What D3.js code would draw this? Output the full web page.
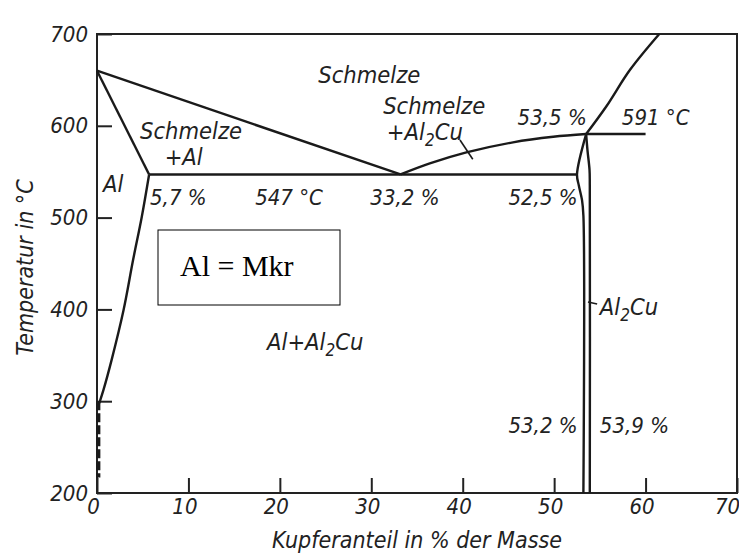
<!DOCTYPE html>
<html>
<head>
<meta charset="utf-8">
<script src="https://cdn.jsdelivr.net/npm/d3@7"></script>
<style>
  body { margin: 0; background: #fff; }
  svg { display: block; }
  text { font-family: "Liberation Sans Narrow", "DejaVu Sans Condensed", "Liberation Sans", sans-serif; font-style: italic; fill: #222; }
  .box text { font-family: "Liberation Serif", "Times New Roman", serif; font-style: normal; fill: #000; }
</style>
</head>
<body>
<div class="chart_container"></div>
<script>
// axis ticks
const xTicks = [0, 10, 20, 30, 40, 50, 60, 70];
const yTicks = [200, 300, 400, 500, 600, 700];

// phase boundaries, [Cu %, Temperatur °C]
const liquidusAl = [[0, 660], [33.2, 547]];
const liquidusAl2Cu = [[33.2, 547], [36.4, 559], [40.4, 571], [45.5, 582], [49.9, 588], [53.5, 591]];
const liquidusUpper = [[53.5, 591], [55.7, 621], [58.3, 661], [61.5, 700]];
const solidusAl = [[0, 660], [5.7, 547]];
const solvusAl = [[5.7, 547], [4.9, 501], [3.95, 454], [2.9, 399], [1.6, 345], [0.7, 312], [0.25, 298]];
const solvusDashed = [[0.15, 300], [0.15, 217]];
const eutectic = [[5.7, 547], [52.5, 547]];
const peritectic = [[53.5, 591], [60, 591]];
const al2cuLeft = [[53.5, 591], [52.5, 547], [52.7, 535], [53.05, 519], [53.2, 502], [53.2, 200]];
const al2cuRight = [[53.5, 591], [53.65, 573], [53.87, 552], [53.9, 535], [53.9, 200]];
const pointerMelt = [[39.7, 584.5], [41.1, 563.5]];
const pointerAl2Cu = [[53.7, 408], [54.7, 405.8]];

// annotations: text parts ([text, isSubscript]) anchored at [Cu %, Temperatur °C]
const annotations = [
  { parts: [["Schmelze"]], at: [24.2, 647] },
  { parts: [["Schmelze"]], at: [31.3, 613] },
  { parts: [["+Al"], ["2", true], ["Cu"]], at: [31.7, 584] },
  { parts: [["Schmelze"]], at: [4.7, 586] },
  { parts: [["+Al"]], at: [7.4, 557] },
  { parts: [["Al"]], at: [0.65, 528] },
  { parts: [["5,7 %"]], at: [5.8, 514], num: true },
  { parts: [["547 °C"]], at: [17.3, 514], num: true },
  { parts: [["33,2 %"]], at: [29.9, 514], num: true },
  { parts: [["52,5 %"]], at: [45.0, 514], num: true },
  { parts: [["53,5 %"]], at: [46.0, 601], num: true },
  { parts: [["591 °C"]], at: [57.4, 601], num: true },
  { parts: [["Al+Al"], ["2", true], ["Cu"]], at: [18.6, 356] },
  { parts: [["Al"], ["2", true], ["Cu"]], at: [55.0, 394] },
  { parts: [["53,2 %"]], at: [45.0, 265], num: true },
  { parts: [["53,9 %"]], at: [55.0, 265], num: true },
];

const width = 739, height = 559;
const margin = { top: 34, right: 2, bottom: 66, left: 97 };

function drawDiagram() {
  const container = document.querySelector('div.chart_container');
  container.innerHTML = `<svg id="svgCont" width=${width} height=${height}></svg>`;
  const svg = d3.select(container).select('#svgCont');

  const x = d3.scaleLinear().domain([0, 70]).range([margin.left, width - margin.right]);
  const y = d3.scaleLinear().domain([200, 700]).range([height - margin.bottom, margin.top]);

  // frame
  svg.append('rect')
    .attr('x', x(0)).attr('y', y(700))
    .attr('width', x(70) - x(0)).attr('height', y(200) - y(700))
    .attr('fill', 'none').attr('stroke', '#222').attr('stroke-width', 2);

  // axes with inward ticks
  const yAxis = svg.append('g')
    .attr('transform', `translate(${x(0)},0)`)
    .call(d3.axisLeft(y).tickValues(yTicks).tickSizeInner(-15).tickSizeOuter(0).tickPadding(9));
  const xAxis = svg.append('g')
    .attr('transform', `translate(0,${y(200)})`)
    .call(d3.axisBottom(x).tickValues(xTicks).tickSizeInner(-15).tickSizeOuter(0).tickPadding(5));
  [xAxis, yAxis].forEach(ax => {
    ax.select('.domain').remove();
    ax.selectAll('line').attr('stroke', '#222').attr('stroke-width', 2);
    ax.selectAll('text').attr('font-size', 22).attr('font-family', null).attr('fill', '#222');
  });
  xAxis.selectAll('text').attr('dx', d => d === 70 ? -10 : -4);

  // axis titles
  svg.append('text')
    .attr('transform', `translate(33,${(y(700) + y(200)) / 2 + 4}) rotate(-90)`)
    .attr('text-anchor', 'middle').attr('font-size', 23)
    .text('Temperatur in °C');
  svg.append('text')
    .attr('x', (x(0) + x(70)) / 2).attr('y', 548)
    .attr('text-anchor', 'middle').attr('font-size', 23)
    .text('Kupferanteil in % der Masse');

  // phase boundaries
  const straight = d3.line().x(d => x(d[0])).y(d => y(d[1]));
  const smooth = d3.line().x(d => x(d[0])).y(d => y(d[1])).curve(d3.curveCatmullRom);

  const lines = [
    [liquidusAl, straight], [solidusAl, straight], [eutectic, straight], [peritectic, straight],
    [liquidusAl2Cu, smooth], [liquidusUpper, smooth], [solvusAl, smooth],
    [al2cuLeft, smooth], [al2cuRight, smooth], [pointerMelt, straight], [pointerAl2Cu, straight],
  ];
  svg.append('g').selectAll('path')
    .data(lines).enter().append('path')
    .attr('d', d => d[1](d[0]))
    .attr('fill', 'none')
    .attr('stroke', '#1a1a1a')
    .attr('stroke-width', (d, i) => i >= 9 ? 1.6 : 2.4)
    .attr('stroke-linejoin', 'round');

  svg.append('path')
    .attr('d', straight(solvusDashed))
    .attr('stroke', '#1a1a1a').attr('stroke-width', 4)
    .attr('stroke-dasharray', '9,3');

  // labels
  const labels = svg.append('g').selectAll('text')
    .data(annotations).enter().append('text')
    .attr('x', d => x(d.at[0])).attr('y', d => y(d.at[1]))
    .attr('font-size', d => d.num ? 22 : 23.5);
  labels.each(function (d) {
    const t = d3.select(this);
    d.parts.forEach(([s, sub], i) => {
      const prevSub = i > 0 && d.parts[i - 1][1];
      t.append('tspan')
        .attr('dy', sub ? 6 : (prevSub ? -6 : 0))
        .attr('font-size', sub ? 17 : null)
        .text(s);
    });
  });

  // note box
  const box = svg.append('g').attr('class', 'box');
  box.append('rect')
    .attr('x', 158).attr('y', 230).attr('width', 182).attr('height', 75)
    .attr('fill', '#fff').attr('stroke', '#000').attr('stroke-width', 1);
  box.append('text')
    .attr('x', 180).attr('y', 276).attr('font-size', 30)
    .text('Al = Mkr');
}

drawDiagram();
</script>
</body>
</html>
